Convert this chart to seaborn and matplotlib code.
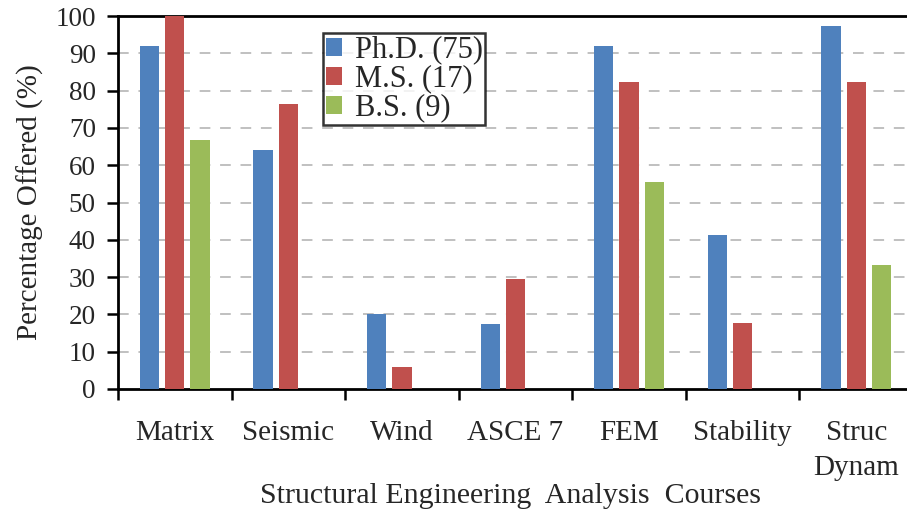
import matplotlib
matplotlib.use("Agg")
import matplotlib.pyplot as plt
import seaborn as sns
import pandas as pd
import numpy as np
from matplotlib.ticker import FixedLocator

# Share of programs offering each analysis course, by degree level
courses = ["Matrix", "Seismic", "Wind", "ASCE 7", "FEM", "Stability", "Struc\nDynam"]
degrees = ["Ph.D. (75)", "M.S. (17)", "B.S. (9)"]
phd = [92.0, 64.0, 20.0, 17.3, 92.0, 41.3, 97.3]
ms = [100.0, 76.5, 5.9, 29.4, 82.4, 17.6, 82.4]
bs = [66.7, 0.0, 0.0, 0.0, 55.6, 0.0, 33.3]
yticks = list(range(0, 101, 10))

rows = []
for deg, vals in zip(degrees, [phd, ms, bs]):
    for c, v in zip(courses, vals):
        rows.append({"Course": c, "Degree": deg, "Percent": v})
df = pd.DataFrame(rows)

sns.set_style("white")
plt.rcParams["font.family"] = ["Liberation Serif", "DejaVu Serif"]

fig = plt.figure(figsize=(9.07, 5.09), dpi=100)
ax = fig.add_axes([118 / 907, 1 - 389 / 509, 795 / 907, 373 / 509])

palette = ["#4F81BD", "#C0504D", "#9BBB59"]
sns.barplot(data=df, x="Course", y="Percent", hue="Degree", order=courses,
            hue_order=degrees, palette=palette, width=0.668, gap=0.24,
            linewidth=0, saturation=1, errorbar=None, ax=ax, zorder=3)

ax.set_ylim(0, 100)
ax.set_xlim(-0.5, len(courses) - 0.5)
ax.set_yticks(yticks)
ax.set_yticklabels([str(t) for t in yticks], fontsize=19.5)

# dashed horizontal gridlines
for t in yticks[1:-1]:
    ax.axhline(t, color="#c0c0c0", lw=1.4, linestyle=(0, (5.5, 5)), zorder=1)

# category boundary ticks on the x axis
ax.xaxis.set_minor_locator(FixedLocator(np.arange(-0.5, len(courses), 1.0)))
ax.tick_params(axis="x", which="major", length=0, pad=22, labelsize=21)
ax.tick_params(axis="x", which="minor", length=8, width=1.8, color="black",
               direction="out", bottom=True)
ax.tick_params(axis="y", which="major", length=8, width=1.8, color="black",
               direction="out", left=True, pad=8)
for lbl in ax.get_xticklabels():
    lbl.set_linespacing(1.45)
    lbl.set_verticalalignment("top")

for side in ["left", "bottom", "top"]:
    ax.spines[side].set_visible(True)
    ax.spines[side].set_color("black")
    ax.spines[side].set_linewidth(2)
ax.spines["right"].set_visible(False)

ax.set_xlabel("")
fig.text(511 / 907, 1 - 503 / 509, "Structural Engineering  Analysis  Courses",
         fontsize=21.5, ha="center", va="baseline")
ax.set_ylabel("Percentage Offered (%)", fontsize=21, labelpad=8)

handles, labels = ax.get_legend_handles_labels()
leg = ax.legend(handles, labels, loc="upper left", bbox_to_anchor=(0.258, 0.954),
                borderaxespad=0, fontsize=22, frameon=True, fancybox=False,
                handlelength=0.55, handleheight=0.55, handletextpad=0.4,
                labelspacing=0.0, borderpad=0.08)
leg.get_frame().set_edgecolor("black")
leg.get_frame().set_linewidth(1.8)
leg.set_zorder(5)

fig.savefig("out.png", dpi=100)
